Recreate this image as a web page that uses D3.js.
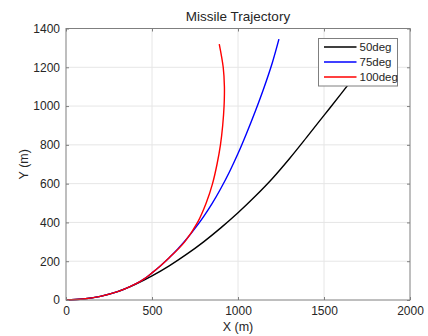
<!DOCTYPE html>
<html>
<head>
<meta charset="utf-8">
<script src="https://cdn.jsdelivr.net/npm/d3@7"></script>
<style>
  body { margin: 0; background: #fff; }
  text { font-family: "Liberation Sans", Arial, sans-serif; fill: #262626; }
</style>
</head>
<body>
<div id="chart"></div>
<script>
var svgWidth = 428;
var svgHeight = 336;

var margin = { top: 28.5, right: 18, bottom: 36, left: 66 };

var chartWidth = svgWidth - margin.left - margin.right;
var chartHeight = svgHeight - margin.top - margin.bottom;

// data, [x, y] in metres
var seriesNames = ["50deg", "75deg", "100deg"];
var seriesColors = ["#000000", "#0000ff", "#ff0000"];

var traj50 = [[0,0],[100,5],[200,19],[300,43],[400,79],[500,124],[600,176],[700,235],
  [800,300],[900,372],[1000,450],[1100,535],[1200,627],[1300,730],[1400,840],
  [1500,952],[1600,1064],[1700,1178],[1800,1293],[1830,1328]];

var traj75 = [[0,0],[100,5],[200,19],[300,43],[372,69],[450,106],[500,140],[550,177],
  [600,218],[650,263],[700,313],[750,369],[800,430],[850,498],[900,575],[950,660],
  [1000,755],[1050,860],[1100,972],[1150,1092],[1200,1225],[1238,1345]];

var traj100 = [[0,0],[100,5],[200,19],[300,43],[372,69],[450,106],[500,140],[550,177],
  [600,218],[690,300],[765,400],[815,500],[852,600],[878,700],[898,800],[911,900],
  [919,1000],[921,1100],[914,1200],[891,1320]];

var xTicks = [0, 500, 1000, 1500, 2000];
var yTicks = [0, 200, 400, 600, 800, 1000, 1200, 1400];

var svg = d3.select("#chart")
  .append("svg")
  .attr("width", svgWidth)
  .attr("height", svgHeight);

var chart = svg.append("g")
  .attr("transform", "translate(" + margin.left + "," + margin.top + ")");

var x = d3.scaleLinear().domain([0, 2000]).range([0, chartWidth]);
var y = d3.scaleLinear().domain([0, 1400]).range([chartHeight, 0]);

// grid
chart.append("g").selectAll("line")
  .data(xTicks.slice(1, -1))
  .enter().append("line")
  .attr("x1", d => x(d)).attr("x2", d => x(d))
  .attr("y1", 0).attr("y2", chartHeight)
  .attr("stroke", "#e6e6e6");

chart.append("g").selectAll("line")
  .data(yTicks.slice(1, -1))
  .enter().append("line")
  .attr("x1", 0).attr("x2", chartWidth)
  .attr("y1", d => y(d)).attr("y2", d => y(d))
  .attr("stroke", "#e6e6e6");

// curves
var line = d3.line()
  .x(d => x(d[0]))
  .y(d => y(d[1]))
  .curve(d3.curveCatmullRom);

[traj50, traj75, traj100].forEach(function(data, i) {
  chart.append("path")
    .datum(data)
    .attr("fill", "none")
    .attr("stroke", seriesColors[i])
    .attr("stroke-width", 1.4)
    .attr("d", line);
});

// axes, MATLAB style: ticks inside, box on
function styleAxis(g) {
  g.select(".domain").remove();
  g.selectAll(".tick line").attr("stroke", "#7f7f7f");
  g.selectAll(".tick text")
    .style("font-size", "12px")
    .style("font-family", "'Liberation Sans', Arial, sans-serif")
    .attr("fill", "#262626");
}

var fmt = d3.format("d");

chart.append("g")
  .attr("transform", `translate(0, ${chartHeight})`)
  .call(d3.axisBottom(x).tickValues(xTicks).tickFormat(fmt).tickSizeInner(-3).tickSizeOuter(0).tickPadding(6))
  .call(styleAxis);

chart.append("g")
  .call(d3.axisLeft(y).tickValues(yTicks).tickFormat(fmt).tickSizeInner(-3).tickSizeOuter(0).tickPadding(6))
  .call(styleAxis);

chart.append("g")
  .call(d3.axisTop(x).tickValues(xTicks).tickSizeInner(-3).tickSizeOuter(0).tickFormat(""))
  .call(styleAxis);

chart.append("g")
  .attr("transform", `translate(${chartWidth}, 0)`)
  .call(d3.axisRight(y).tickValues(yTicks).tickSizeInner(-3).tickSizeOuter(0).tickFormat(""))
  .call(styleAxis);

chart.append("rect")
  .attr("x", 0).attr("y", 0)
  .attr("width", chartWidth).attr("height", chartHeight)
  .attr("fill", "none")
  .attr("stroke", "#7f7f7f");

// labels
svg.append("text")
  .attr("x", margin.left + chartWidth / 2)
  .attr("y", 21)
  .attr("text-anchor", "middle")
  .style("font-size", "13.5px")
  .attr("fill", "#000")
  .text("Missile Trajectory");

svg.append("text")
  .attr("x", margin.left + chartWidth / 2)
  .attr("y", 331)
  .attr("text-anchor", "middle")
  .style("font-size", "12.5px")
  .text("X (m)");

svg.append("text")
  .attr("transform", "translate(28," + (margin.top + chartHeight / 2) + ") rotate(-90)")
  .attr("text-anchor", "middle")
  .style("font-size", "12.5px")
  .text("Y (m)");

// legend
var legend = svg.append("g").attr("transform", "translate(318.5, 38.5)");

legend.append("rect")
  .attr("width", 79).attr("height", 47.5)
  .attr("fill", "#fff")
  .attr("stroke", "#7f7f7f");

seriesNames.forEach(function(name, i) {
  var ly = 8.5 + i * 15;
  legend.append("line")
    .attr("x1", 5.5).attr("x2", 38)
    .attr("y1", ly).attr("y2", ly)
    .attr("stroke", seriesColors[i])
    .attr("stroke-width", 1.4);
  legend.append("text")
    .attr("x", 41)
    .attr("y", ly + 4)
    .style("font-size", "11.5px")
    .attr("fill", "#000")
    .text(name);
});
</script>
</body>
</html>
